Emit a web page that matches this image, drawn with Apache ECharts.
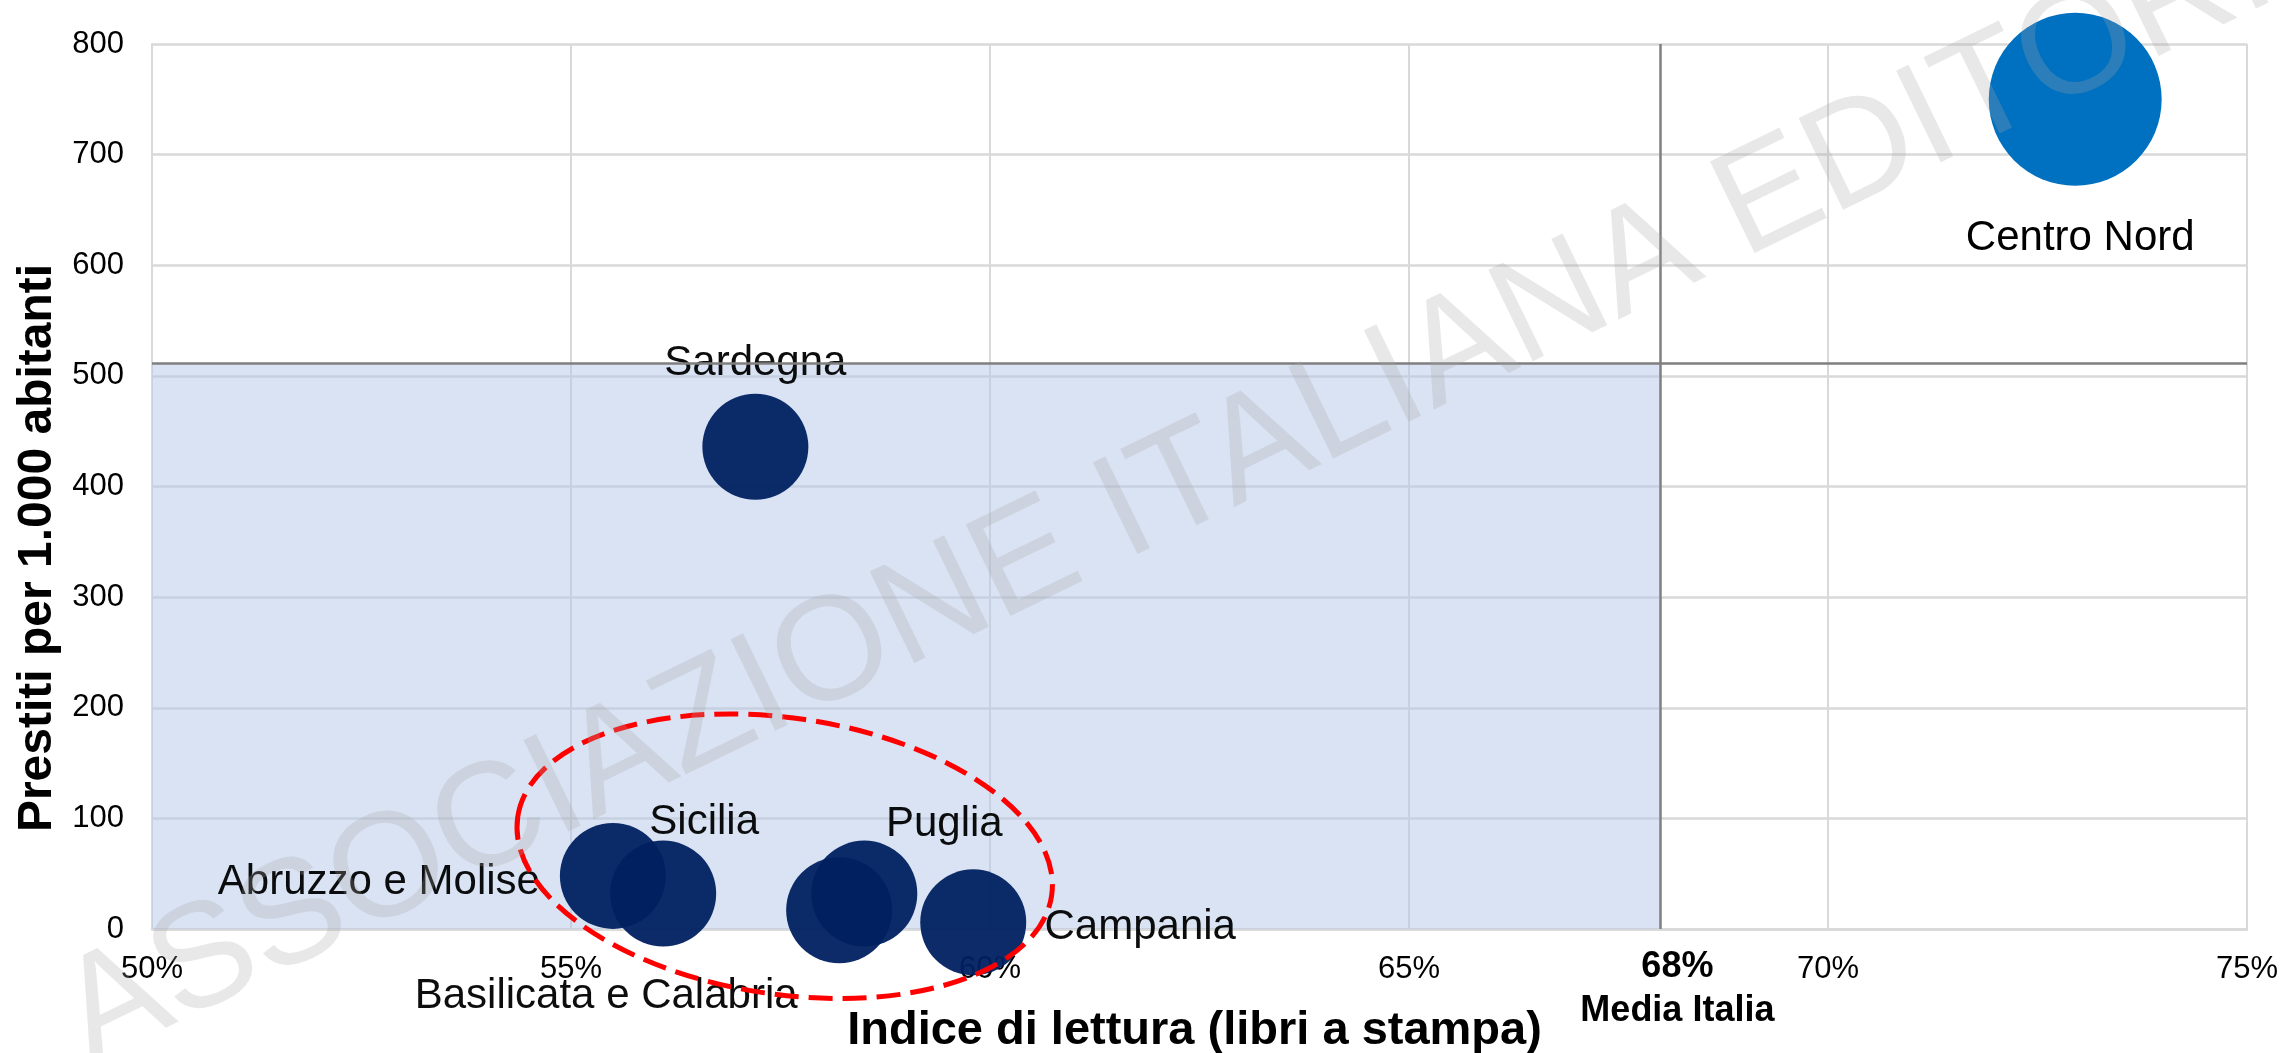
<!DOCTYPE html>
<html>
<head>
<meta charset="utf-8">
<script src="https://cdn.jsdelivr.net/npm/echarts/dist/echarts.min.js"></script>
<style>
  html, body { margin: 0; padding: 0; background: #ffffff; }
  #chart { width: 2285px; height: 1053px; }
</style>
</head>
<body>
<div id="chart"></div>
<script>
// Regioni e valori
const regioni = ['Abruzzo e Molise', 'Sicilia', 'Basilicata e Calabria', 'Puglia', 'Campania', 'Sardegna', 'Centro Nord'];
const indiceLettura = [55.5, 56.1, 58.2, 58.5, 59.8, 57.2, 72.95];  // % lettori di libri a stampa
const prestiti = [48, 32, 17, 32, 6, 436, 750];                     // prestiti per 1.000 abitanti
const pesoBolla = [1, 1, 1, 1, 1, 1, 2.66];                         // peso relativo (area) della bolla
const mediaItalia = { lettura: 68, prestiti: 511 };

// Assi
const xMin = 50, xMax = 75, xStep = 5;
const yMin = 0, yMax = 800, yStep = 100;

// Stile
const FONT = '"Liberation Sans", Arial, Helvetica, sans-serif';
const BLU_SUD = '#002060';
const BLU_NORD = '#0070C0';
const BASE_BOLLA = 106;

// Posizione delle etichette rispetto al centro della bolla
const posEtichetta = {
  'Abruzzo e Molise': [-234, 7],
  'Sicilia': [41, -71],
  'Basilicata e Calabria': [-233, 86],
  'Puglia': [80, -69],
  'Campania': [167, 5],
  'Sardegna': [0, -83],
  'Centro Nord': [5, 139]
};

// Ellisse che evidenzia il gruppo del Sud (in unità degli assi)
const ellisseSud = { lettura: 57.55, prestiti: 65.8, semiLettura: 3.22, semiPrestiti: 124.9, inclinazioneGradi: -8.4 };

const dati = regioni.map((nome, i) => ({
  name: nome,
  value: [indiceLettura[i], prestiti[i], pesoBolla[i]],
  itemStyle: { color: nome === 'Centro Nord' ? BLU_NORD : BLU_SUD, opacity: nome === 'Centro Nord' ? 1 : 0.95 },
  label: {
    show: true,
    position: 'inside',
    offset: posEtichetta[nome],
    formatter: '{b}',
    fontSize: 42,
    fontFamily: FONT,
    color: '#000000'
  }
}));

const chart = echarts.init(document.getElementById('chart'), null, { renderer: 'canvas' });

const option = {
  animation: false,
  backgroundColor: '#ffffff',
  grid: { left: 152, right: 38, top: 44, bottom: 124, containLabel: false, outerBoundsMode: 'none' },
  xAxis: {
    type: 'value',
    min: xMin, max: xMax, interval: xStep,
    name: 'Indice di lettura (libri a stampa)',
    nameLocation: 'middle',
    nameGap: 79,
    nameMoveOverlap: false,
    nameTextStyle: { fontSize: 47, fontWeight: 'bold', fontFamily: FONT, color: '#000000', padding: [0, 10, 0, 0] },
    axisLine: { show: true, lineStyle: { color: '#D9D9D9', width: 2.5 } },
    axisTick: { show: false },
    axisLabel: { margin: 25, fontSize: 31, fontFamily: FONT, color: '#000000', formatter: '{value}%' },
    splitLine: { show: true, lineStyle: { color: '#D9D9D9', width: 2 } }
  },
  yAxis: {
    type: 'value',
    min: yMin, max: yMax, interval: yStep,
    name: 'Prestiti per 1.000 abitanti',
    nameLocation: 'middle',
    nameRotate: 90,
    nameGap: 90,
    nameMoveOverlap: false,
    nameTextStyle: { fontSize: 48, fontWeight: 'bold', fontFamily: FONT, color: '#000000', padding: [0, 123, 0, 0] },
    axisLine: { show: true, lineStyle: { color: '#D9D9D9', width: 2 } },
    axisTick: { show: false },
    axisLabel: { margin: 28, fontSize: 31, fontFamily: FONT, color: '#000000', padding: [7, 0, 0, 0] },
    splitLine: { show: true, lineStyle: { color: '#D9D9D9', width: 2.5 } }
  },
  series: [
    {
      // quadrante sotto la media italiana e linee di riferimento
      type: 'scatter',
      data: [],
      z: 1,
      silent: true,
      markArea: {
        silent: true,
        itemStyle: { color: 'rgba(180,199,231,0.5)' },
        data: [[{ coord: [xMin, yMin] }, { coord: [mediaItalia.lettura, mediaItalia.prestiti] }]]
      },
      markLine: {
        silent: true,
        symbol: ['none', 'none'],
        lineStyle: { color: '#7F7F7F', width: 2.5, type: 'solid' },
        data: [
          [
            {
              coord: [mediaItalia.lettura, yMin],
              label: {
                show: true,
                position: 'start',
                distance: 16,
                padding: [0, 0, 0, 34],
                formatter: '{a|' + mediaItalia.lettura + '%}\n{b|Media Italia}',
                rich: {
                  a: { fontSize: 36, fontWeight: 'bold', fontFamily: FONT, color: '#000000', lineHeight: 44, align: 'center' },
                  b: { fontSize: 36, fontWeight: 'bold', fontFamily: FONT, color: '#000000', lineHeight: 44, align: 'center' }
                }
              }
            },
            { coord: [mediaItalia.lettura, yMax] }
          ],
          [
            { coord: [xMin, mediaItalia.prestiti], label: { show: false } },
            { coord: [xMax, mediaItalia.prestiti] }
          ]
        ]
      }
    },
    {
      type: 'scatter',
      z: 3,
      clip: false,
      silent: true,
      symbol: 'circle',
      symbolSize: v => BASE_BOLLA * Math.sqrt(v[2]),
      data: dati
    }
  ]
};

chart.setOption(option);

// Ellisse tratteggiata e filigrana
function disegnaSovrapposizioni() {
  const c = chart.convertToPixel({ gridIndex: 0 }, [ellisseSud.lettura, ellisseSud.prestiti]);
  const ex = chart.convertToPixel({ gridIndex: 0 }, [ellisseSud.lettura + ellisseSud.semiLettura, ellisseSud.prestiti]);
  const ey = chart.convertToPixel({ gridIndex: 0 }, [ellisseSud.lettura, ellisseSud.prestiti + ellisseSud.semiPrestiti]);
  const W = chart.getWidth(), H = chart.getHeight();
  chart.setOption({
    graphic: [
      {
        type: 'ellipse',
        x: c[0], y: c[1],
        rotation: ellisseSud.inclinazioneGradi * Math.PI / 180,
        shape: { cx: 0, cy: 0, rx: ex[0] - c[0], ry: c[1] - ey[1] },
        style: { fill: 'none', stroke: '#FF0000', lineWidth: 5, lineDash: [24, 10] },
        z: 50,
        silent: true
      },
      {
        type: 'text',
        x: W * 0.511, y: H * 0.469,
        rotation: 26 * Math.PI / 180,
        style: {
          text: 'ASSOCIAZIONE ITALIANA EDITORI',
          fontSize: 148,
          fontFamily: FONT,
          fill: 'rgba(165,165,165,0.26)',
          align: 'center',
          verticalAlign: 'middle'
        },
        z: 100,
        silent: true
      }
    ]
  });
}
disegnaSovrapposizioni();
</script>
</body>
</html>
